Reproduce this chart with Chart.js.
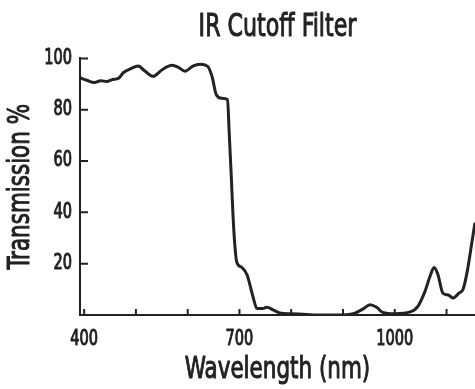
<!DOCTYPE html>
<html>
<head>
<meta charset="utf-8">
<script src="https://cdn.jsdelivr.net/npm/chart.js@4.4.1/dist/chart.umd.min.js"></script>
<style>
  html, body { margin: 0; padding: 0; background: #fff; }
  canvas { display: block; }
</style>
</head>
<body>
<canvas id="chart" width="475" height="389"></canvas>
<script>
// values
const wavelength = [392, 405, 420, 432, 444, 455, 466, 476, 490, 504, 518, 533, 550, 570, 582, 595, 610, 624, 638, 647, 655, 665, 677,
  680, 684, 688, 692, 695, 705, 715, 725, 734, 745, 753, 765, 778, 800, 830, 860, 890, 920, 940, 952, 965, 977, 1000,
  1030, 1045, 1058, 1068, 1076, 1083, 1093, 1103, 1113, 1124, 1132, 1140, 1148, 1155];
const transmission = [92.5, 91.5, 90.6, 91.3, 91.0, 91.8, 92.2, 94.5, 96, 97, 95, 93, 95.5, 97.3, 96.5, 95, 97, 97.7, 97, 93, 86, 84.5, 84,
  72, 55, 37, 25, 20.5, 18.5, 15.5, 8, 2.5, 2.5, 3, 2, 0.8, 0.5, 0.2, 0, 0, 0.5, 2.5, 4, 3, 1, 0.5,
  1.2, 3.5, 9, 15, 18.5, 16, 8.5, 7.8, 6.6, 8.5, 10, 17, 27, 36];
const xTicks = [400, 500, 600, 700, 800, 900, 1000, 1100];
const xLabels = [400, 700, 1000];
const yTicks = [20, 40, 60, 80, 100];

const ink = '#222';
const narrow = "'DejaVu Sans Condensed', 'DejaVu Sans', sans-serif";
const squeeze = 0.77; // the print uses a very condensed face

const canvas = document.getElementById('chart');
const ctx2d = canvas.getContext('2d');
const rawFill = ctx2d.fillText.bind(ctx2d);
const rawStroke = ctx2d.strokeText.bind(ctx2d);
// squeeze every label horizontally around its anchor point, slightly heavier
ctx2d.fillText = function (text, x, y) {
  this.save();
  this.translate(x, y);
  this.scale(squeeze, 1);
  rawFill(text, 0, 0);
  this.strokeStyle = this.fillStyle;
  this.lineWidth = 1;
  this.lineJoin = 'round';
  rawStroke(text, 0, 0);
  this.restore();
};

// tick marks drawn inward, like the printed figure
const inwardTicks = {
  id: 'inwardTicks',
  afterDraw(chart) {
    const ctx = chart.ctx;
    const x = chart.scales.x, y = chart.scales.y;
    ctx.save();
    ctx.strokeStyle = ink;
    ctx.lineWidth = 2;
    ctx.beginPath();
    xTicks.forEach(v => {
      const px = x.getPixelForValue(v);
      ctx.moveTo(px, y.bottom);
      ctx.lineTo(px, y.bottom - 6);
    });
    yTicks.forEach(v => {
      const py = y.getPixelForValue(v);
      ctx.moveTo(x.left, py);
      ctx.lineTo(x.left + 8, py);
    });
    ctx.stroke();
    ctx.restore();
  }
};

new Chart(canvas, {
  type: 'line',
  data: {
    datasets: [{
      data: wavelength.map((w, i) => ({ x: w, y: transmission[i] })),
      borderColor: ink,
      borderWidth: 3,
      pointRadius: 0,
      cubicInterpolationMode: 'monotone',
      fill: false
    }]
  },
  options: {
    responsive: false,
    animation: false,
    devicePixelRatio: 1,
    layout: { padding: { top: 8, right: 0, left: 0, bottom: 0 } },
    plugins: {
      legend: { display: false },
      tooltip: { enabled: false },
      title: {
        display: true,
        text: 'IR Cutoff Filter',
        color: ink,
        fullSize: false,
        font: { family: narrow, size: 32, weight: 'normal', lineHeight: 1.2 },
        padding: { top: 0, bottom: 12 }
      }
    },
    scales: {
      x: {
        type: 'linear',
        min: 392,
        max: 1155,
        afterBuildTicks: s => { s.ticks = xTicks.map(v => ({ value: v })); },
        afterFit: s => { s.height = 74; },
        grid: { display: false, drawTicks: false },
        border: { display: true, color: ink, width: 2 },
        ticks: {
          color: ink,
          padding: 12,
          autoSkip: false,
          maxRotation: 0,
          font: { family: narrow, size: 21 },
          callback: v => xLabels.includes(v) ? String(v) : ''
        },
        title: {
          display: true,
          text: 'Wavelength (nm)',
          color: ink,
          font: { family: narrow, size: 31 },
          padding: { top: 0, bottom: 0 }
        }
      },
      y: {
        min: 0,
        max: 100,
        afterBuildTicks: s => { s.ticks = yTicks.map(v => ({ value: v })); },
        afterFit: s => { s.width = 80; },
        grid: { display: false, drawTicks: false },
        border: { display: true, color: ink, width: 2 },
        ticks: {
          color: ink,
          padding: 8,
          font: { family: narrow, size: 21 }
        },
        title: {
          display: true,
          text: 'Transmission %',
          color: ink,
          font: { family: narrow, size: 31 },
          padding: { top: 2, bottom: 0 }
        }
      }
    }
  },
  plugins: [inwardTicks]
});
</script>
</body>
</html>
